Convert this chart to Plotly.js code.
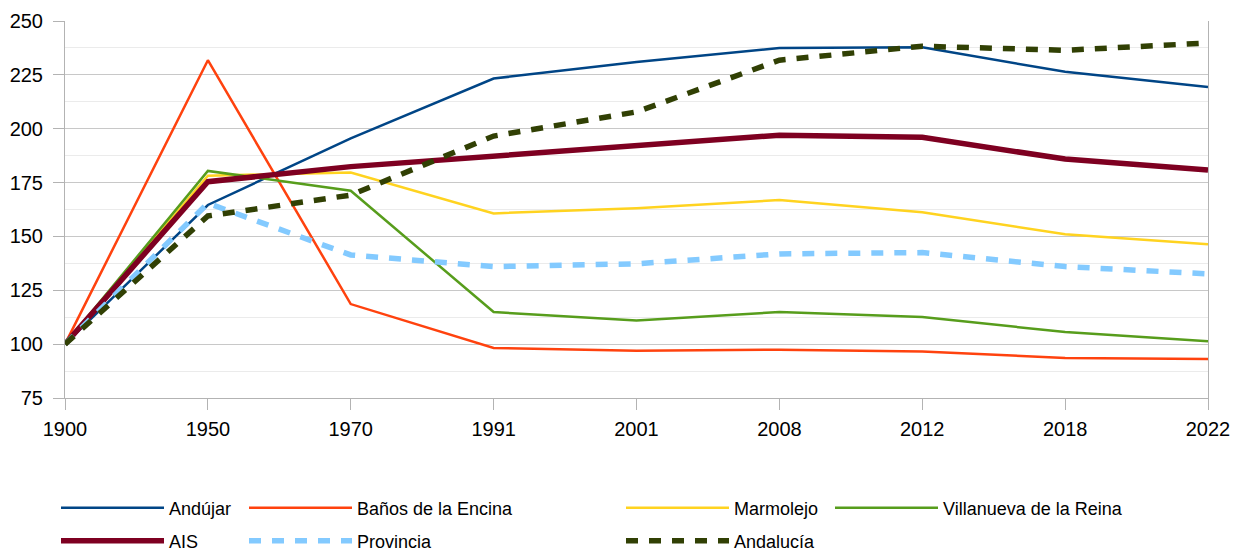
<!DOCTYPE html>
<html><head><meta charset="utf-8">
<script src="https://cdn.plot.ly/plotly-3.0.1.min.js"></script>
<style>html,body{margin:0;padding:0;background:#fff}#chart{width:1235px;height:551px}</style>
</head><body><div id="chart"></div>
<script>
const years = ['1900','1950','1970','1991','2001','2008','2012','2018','2022'];
const andujar = [100,164.6,195.5,223.3,231,237.5,237.8,226.4,219.4];
const banos = [100,231.8,118.6,98.2,96.9,97.4,96.6,93.6,93.1];
const marmolejo = [100,178.2,179.7,160.7,163.1,166.9,161.2,151,146.4];
const villanueva = [100,180.4,171.2,114.9,111,114.9,112.6,105.6,101.3];
const ais = [100,175.4,182.4,187.3,192.1,197,196,185.9,180.8];
const provincia = [100,165.4,141.4,136,137.3,141.9,142.5,136,132.6];
const andalucia = [100,159.5,169.2,196.6,207.8,231.8,238.3,236.4,239.8];
const yTicks = [75,100,125,150,175,200,225,250];

const series = [
  {name:'Andújar', y:andujar, color:'#004586', width:2.5, dash:'solid', legend:'legend'},
  {name:'Baños de la Encina', y:banos, color:'#ff420e', width:2.5, dash:'solid', legend:'legend2'},
  {name:'Marmolejo', y:marmolejo, color:'#ffd320', width:2.5, dash:'solid', legend:'legend3'},
  {name:'Villanueva de la Reina', y:villanueva, color:'#579d1c', width:2.5, dash:'solid', legend:'legend4'},
  {name:'AIS', y:ais, color:'#7e0021', width:5.5, dash:'solid', legend:'legend5'},
  {name:'Provincia', y:provincia, color:'#83caff', width:5.5, dash:'12px,11px', legend:'legend6'},
  {name:'Andalucía', y:andalucia, color:'#314004', width:5.5, dash:'12px,11px', legend:'legend7'}
];

const traces = series.map(s => ({
  type:'scatter', mode:'lines', x:years, y:s.y, name:s.name, legend:s.legend,
  line:{color:s.color, width:s.width, dash:s.dash}, hoverinfo:'skip'
}));

const L = 65, R = 1208, T = 21, B = 398;
const px2x = p => (p - L) / (R - L);
const py2y = p => (B - p) / (B - T);
function leg(xpx, ypx){
  return {x:px2x(xpx), y:py2y(ypx), xanchor:'left', yanchor:'middle', orientation:'v',
    bgcolor:'rgba(0,0,0,0)', borderwidth:0, itemwidth:103,
    font:{family:'"Liberation Sans", Arial, sans-serif', size:18, color:'#000'}};
}
const row1 = 508, row2 = 541;
const layout = {
  width:1235, height:551,
  margin:{l:L, r:1235-R, t:T, b:551-B, autoexpand:false},
  paper_bgcolor:'#fff', plot_bgcolor:'#fff',
  font:{family:'"Liberation Sans", Arial, sans-serif', size:20, color:'#000'},
  showlegend:true,
  xaxis:{type:'category', range:[0, years.length-1], showgrid:false, zeroline:false, automargin:false,
    showline:true, linecolor:'#b3b3b3', linewidth:1, ticks:'outside', ticklen:11, tickcolor:'#b3b3b3',
    ticklabelstandoff:2, tickfont:{size:20, color:'#000'}},
  yaxis:{range:[75,250], tickmode:'array', tickvals:yTicks, showgrid:true, gridcolor:'#c8c8c8', gridwidth:1,
    zeroline:false, showline:true, mirror:true, linecolor:'#b3b3b3', linewidth:1, automargin:false,
    ticks:'outside', ticklen:11, tickcolor:'#b3b3b3', ticklabelstandoff:6, tickfont:{size:20, color:'#000'},
    minor:{dtick:12.5, tick0:75, showgrid:true, gridcolor:'#ebebeb', gridwidth:1, ticks:''}},
  legend:leg(56, row1),
  legend2:leg(244, row1),
  legend3:leg(621, row1),
  legend4:leg(830, row1),
  legend5:leg(56, row2),
  legend6:leg(244, row2),
  legend7:leg(621, row2)
};
Plotly.newPlot('chart', traces, layout, {displayModeBar:false, staticPlot:true});
</script></body></html>
